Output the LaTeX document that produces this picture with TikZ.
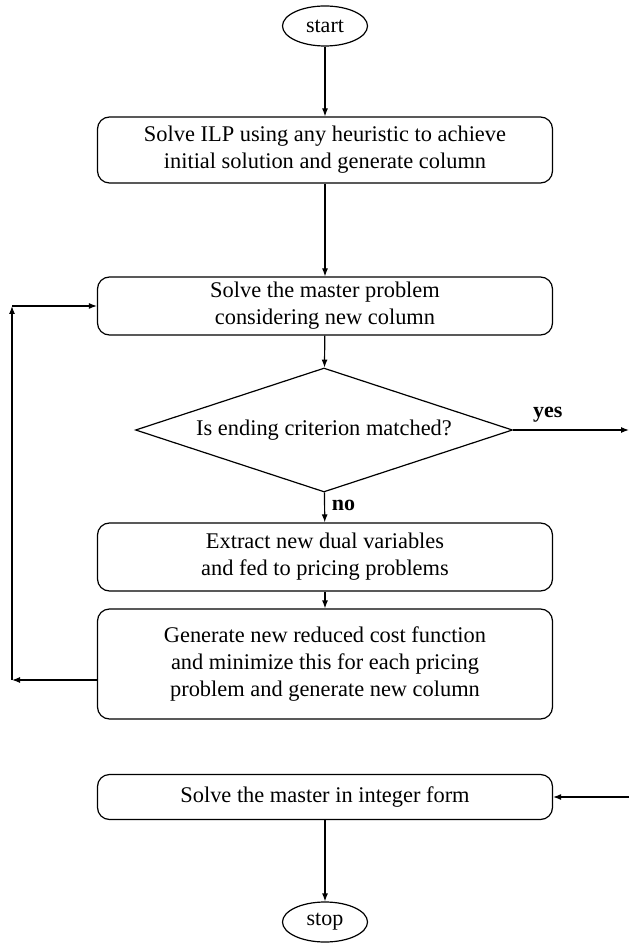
\documentclass[tikz,border=0pt]{standalone}
\usepackage{fontspec}
\setmainfont{Liberation Serif}
\usetikzlibrary{shapes.geometric,arrows.meta}
\begin{document}
\begin{tikzpicture}[x=0.5pt,y=-0.5pt,
  every path/.style={line width=0.6pt},
  flow/.style={draw, line width=0.6pt, -{Latex[length=4pt,width=3pt]}},
  procbox/.style={draw, rounded corners=6pt, minimum width=227.5pt, align=center,
    inner sep=2pt, font=\fontsize{11.2}{13.5}\selectfont},
  term/.style={draw, ellipse, minimum width=42.5pt, minimum height=20pt, inner sep=0pt,
    font=\fontsize{11}{13}\selectfont},
  decision/.style={draw, diamond, aspect=3, inner sep=0pt, minimum width=188.5pt,
    minimum height=62pt, font=\fontsize{11.2}{13}\selectfont},
  lbl/.style={font=\bfseries\fontsize{11}{13}\selectfont}]
\useasboundingbox (0,0) rectangle (629,951);

\node[term] (start) at (325,26) {start};
\node[procbox, minimum height=33pt] (init) at (325,150)
  {Solve ILP using any heuristic to achieve\\initial solution and generate column};
\node[procbox, minimum height=29pt] (master) at (325,306)
  {Solve the master problem\\considering new column};
\node[decision] (check) at (324,430) {Is ending criterion matched?};
\node[procbox, minimum height=34pt] (dual) at (325,557)
  {Extract new dual variables\\and fed to pricing problems};
\node[procbox, minimum height=55pt] (gen) at (325,664)
  {Generate new reduced cost function\\and minimize this for each pricing\\problem and generate new column};
\node[procbox, minimum height=22.5pt] (intf) at (325,797)
  {Solve the master in integer form};
\node[term] (stop) at (325,922) {stop};

\coordinate (yesend) at (629,430);
\coordinate (loopbot) at (12,680);
\coordinate (looptop) at (12,306);
\coordinate (inend) at (629,797);

\draw[flow] (start) -- (init);
\draw[flow] (init) -- (master);
\draw[flow] (master) -- (check);
\draw[flow] (check) -- node[lbl, anchor=west, pos=0.45] {no} (dual);
\draw[flow] (check.east) -- node[lbl, above, pos=0.3] {yes} (yesend);
\draw[flow] (dual) -- (gen);
\draw[flow] (gen.west |- loopbot) -- (loopbot);
\draw[flow] (loopbot) -- (looptop);
\draw[flow] (looptop) -- (master.west);
\draw[flow] (inend) -- (intf.east);
\draw[flow] (intf) -- (stop);
\end{tikzpicture}
\end{document}
